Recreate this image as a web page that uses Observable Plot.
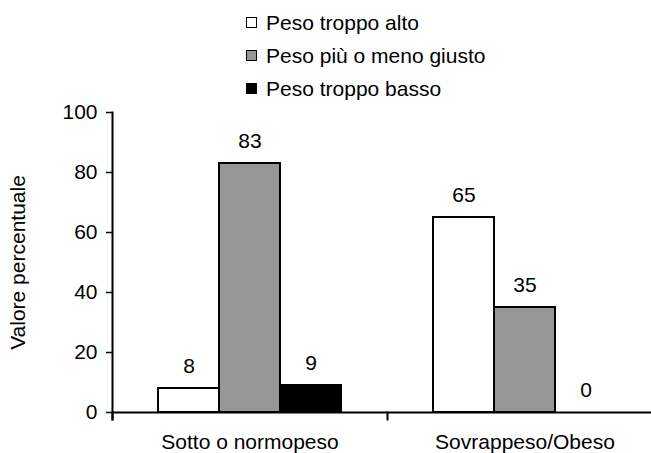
<!DOCTYPE html>
<html><head><meta charset="utf-8">
<script src="https://cdn.jsdelivr.net/npm/d3@7"></script>
<script src="https://cdn.jsdelivr.net/npm/@observablehq/plot@0.6"></script>
<style>
body{margin:0;background:#fff;font-family:"Liberation Sans",Arial,sans-serif;}
#wrap{position:relative;width:651px;height:453px;overflow:hidden;}
#legend{position:absolute;left:246px;top:6px;font-size:21px;color:#000;}
.row{display:flex;align-items:center;height:33px;}
.sw{width:9px;height:9px;border:1.5px solid #000;margin-right:9px;box-sizing:content-box;}
</style></head><body><div id="wrap"><div id="legend"></div></div>
<script>
const categories = ["Sotto o normopeso", "Sovrappeso/Obeso"];
const series = ["Peso troppo alto", "Peso più o meno giusto", "Peso troppo basso"];
const seriesColors = ["#ffffff", "#969696", "#000000"];
const sottoValues = [8, 83, 9];
const sovraValues = [65, 35, 0];
const yTicks = [0, 20, 40, 60, 80, 100];
const yLabel = "Valore percentuale";

const valuesByCategory = [sottoValues, sovraValues];
const data = categories.flatMap((c, ci) => series.map((s, si) => ({category: c, series: s, value: valuesByCategory[ci][si]})));

const font = '"Liberation Sans", Arial, sans-serif';
const chart = Plot.plot({
  width: 651, height: 453,
  marginTop: 112, marginBottom: 41, marginLeft: 112, marginRight: -11,
  style: {fontFamily: font, fontSize: "21px", background: "transparent", overflow: "visible", color: "#000"},
  fx: {domain: categories, padding: 0, label: null},
  x: {domain: series, paddingInner: 0, paddingOuter: 0.743, axis: null},
  y: {domain: [0, 100], axis: null},
  color: {domain: series, range: seriesColors},
  marks: [
    Plot.barY(data, {fx: "category", x: "series", y: "value", fill: "series", stroke: "#000", strokeWidth: 2}),
    Plot.text(data, {fx: "category", x: "series", y: "value", text: d => String(d.value), dy: -22, fontSize: 21, fill: "#000"}),
    Plot.ruleY([0], {stroke: "#000", strokeWidth: 2}),
    Plot.frame({anchor: "left", facetAnchor: "left", insetBottom: -7, stroke: "#000", strokeWidth: 2}),
    Plot.frame({anchor: "left", insetTop: 300, insetBottom: -7, stroke: "#000", strokeWidth: 2}),
    Plot.axisY(yTicks, {anchor: "left", tickSize: 6, tickPadding: 9, strokeWidth: 1.5, fontSize: 21, label: yLabel, labelAnchor: "center", labelOffset: 102, labelArrow: "none"}),
    Plot.axisFx({anchor: "bottom", tickSize: 0, tickPadding: 22, fontSize: 21, label: null})
  ]
});
document.getElementById("wrap").appendChild(chart);

const legend = document.getElementById("legend");
series.forEach((s, i) => {
  const row = document.createElement("div");
  row.className = "row";
  const sw = document.createElement("span");
  sw.className = "sw";
  sw.style.background = seriesColors[i];
  const t = document.createElement("span");
  t.textContent = s;
  row.appendChild(sw); row.appendChild(t);
  legend.appendChild(row);
});
</script>
</body></html>
